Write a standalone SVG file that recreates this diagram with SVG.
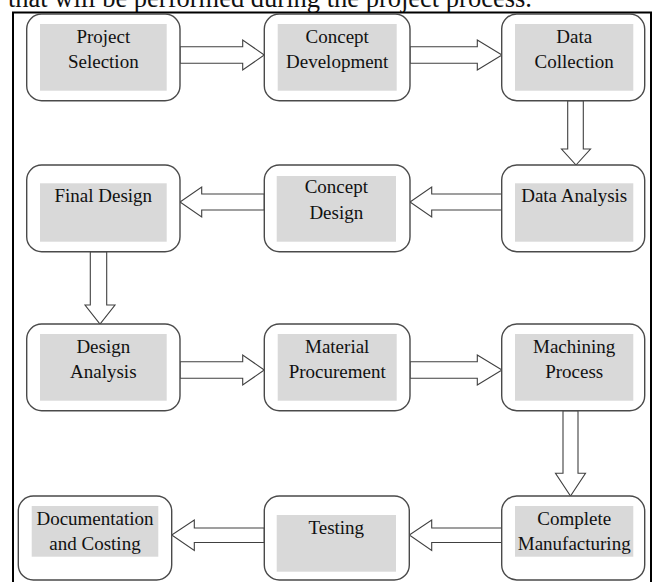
<svg xmlns="http://www.w3.org/2000/svg" width="654" height="582" viewBox="0 0 654 582" font-family="Liberation Serif, serif">
<style>
.box{fill:#fff;stroke:#4a4a4a;stroke-width:1.4}
.in{fill:#d9d9d9;stroke:none}
.t{font-size:19px;fill:#111;text-anchor:middle}
.ar{fill:#fff;stroke:#404040;stroke-width:1.1;stroke-linejoin:miter}
</style>
<rect width="654" height="582" fill="#fff"/>
<text x="8" y="7" font-family="Liberation Serif, serif" font-size="26.5" fill="#111">that will be performed during the project process.</text>
<rect x="13" y="12.5" width="638" height="580" fill="none" stroke="#000" stroke-width="2"/>
<g id="connectors">
<polygon class="ar" points="180,46.7 242.7,46.7 242.7,40 264.3,55 242.7,70 242.7,63.3 180,63.3"/>
<polygon class="ar" points="410,46.7 477.3,46.7 477.3,40 502,55 477.3,70 477.3,63.3 410,63.3"/>
<polygon class="ar" points="567.7,100.7 567.7,149 561.5,149 576,165 590.5,149 583.3,149 583.3,100.7"/>
<polygon class="ar" points="502,194 431.7,194 431.7,187 410,202 431.7,217 431.7,210 502,210"/>
<polygon class="ar" points="264.3,194 201.7,194 201.7,187 180,202 201.7,217 201.7,210 264.3,210"/>
<polygon class="ar" points="90.3,251.7 90.3,305 85,305 100,324 115,305 106.7,305 106.7,251.7"/>
<polygon class="ar" points="180,361.7 242.7,361.7 242.7,355 264.3,370 242.7,385 242.7,378.3 180,378.3"/>
<polygon class="ar" points="410,361.7 477.3,361.7 477.3,355 502,370 477.3,385 477.3,378.3 410,378.3"/>
<polygon class="ar" points="563,410.7 563,473.3 555.5,473.3 570.5,496 585.5,473.3 578,473.3 578,410.7"/>
<polygon class="ar" points="502,528 431.7,528 431.7,520 409.3,535 431.7,550.5 431.7,542.5 502,542.5"/>
<polygon class="ar" points="264.3,528 194.3,528 194.3,520 171.7,535 194.3,550.5 194.3,542.5 264.3,542.5"/>
</g>
<g id="project-selection">
<rect class="box" x="26.7" y="14" width="153.3" height="86.7" rx="15"/>
<rect class="in" x="40" y="24" width="126.7" height="66.7"/>
<text class="t" x="103.3" y="42.7">Project</text>
<text class="t" x="103.3" y="68.3">Selection</text>
</g>
<g id="concept-development">
<rect class="box" x="264.3" y="14" width="145.7" height="86.7" rx="15"/>
<rect class="in" x="277.7" y="24" width="119" height="66.7"/>
<text class="t" x="337.2" y="42.7">Concept</text>
<text class="t" x="337.2" y="68.3">Development</text>
</g>
<g id="data-collection">
<rect class="box" x="501.7" y="14" width="143" height="86.7" rx="15"/>
<rect class="in" x="515" y="24" width="118.3" height="66.7"/>
<text class="t" x="574.2" y="42.7">Data</text>
<text class="t" x="574.2" y="68.3">Collection</text>
</g>
<g id="final-design">
<rect class="box" x="26.7" y="165" width="153.3" height="86.7" rx="15"/>
<rect class="in" x="40" y="183.3" width="126.7" height="58.4"/>
<text class="t" x="103.3" y="202.3">Final Design</text>
</g>
<g id="concept-design">
<rect class="box" x="264.3" y="165" width="145.7" height="86.7" rx="15"/>
<rect class="in" x="276.7" y="176" width="119.3" height="65.7"/>
<text class="t" x="336.3" y="193.3">Concept</text>
<text class="t" x="336.3" y="218.6">Design</text>
</g>
<g id="data-analysis">
<rect class="box" x="501.7" y="165" width="143" height="86.7" rx="15"/>
<rect class="in" x="515" y="183.3" width="118.3" height="58.4"/>
<text class="t" x="574.2" y="202.3">Data Analysis</text>
</g>
<g id="design-analysis">
<rect class="box" x="26.7" y="324" width="153.3" height="86.7" rx="15"/>
<rect class="in" x="40" y="334" width="126.7" height="66.7"/>
<text class="t" x="103.3" y="352.7">Design</text>
<text class="t" x="103.3" y="378.3">Analysis</text>
</g>
<g id="material-procurement">
<rect class="box" x="264.3" y="324" width="145.7" height="86.7" rx="15"/>
<rect class="in" x="277.7" y="334" width="119" height="66.7"/>
<text class="t" x="337.2" y="352.7">Material</text>
<text class="t" x="337.2" y="378.3">Procurement</text>
</g>
<g id="machining-process">
<rect class="box" x="501.7" y="324" width="143" height="86.7" rx="15"/>
<rect class="in" x="515" y="334" width="118.3" height="66.7"/>
<text class="t" x="574.2" y="352.7">Machining</text>
<text class="t" x="574.2" y="378.3">Process</text>
</g>
<g id="documentation-costing">
<rect class="box" x="18.3" y="496" width="153.4" height="84" rx="15"/>
<rect class="in" x="31.7" y="506" width="126.6" height="50.7"/>
<text class="t" x="95" y="525">Documentation</text>
<text class="t" x="95" y="550">and Costing</text>
</g>
<g id="testing">
<rect class="box" x="264.3" y="496" width="145" height="84" rx="15"/>
<rect class="in" x="276.7" y="515" width="119.3" height="56.7"/>
<text class="t" x="336.3" y="534">Testing</text>
</g>
<g id="complete-manufacturing">
<rect class="box" x="501.7" y="496" width="143" height="84" rx="15"/>
<rect class="in" x="515" y="506" width="118.3" height="50.7"/>
<text class="t" x="574.2" y="525">Complete</text>
<text class="t" x="574.2" y="550">Manufacturing</text>
</g>
</svg>
